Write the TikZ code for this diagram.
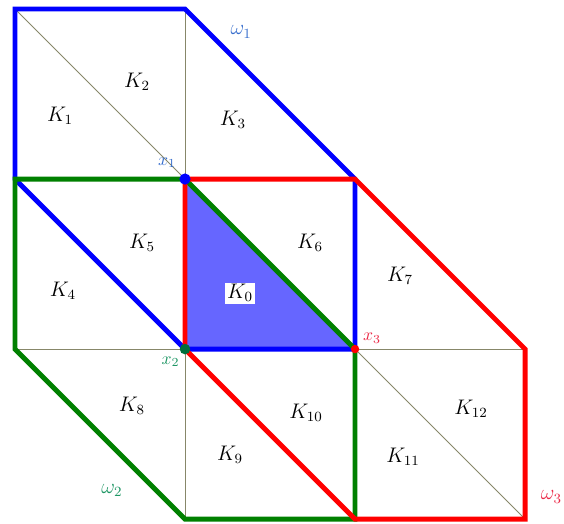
\documentclass[tikz,border=0pt]{standalone}
\usepackage{amsmath,amssymb}
\usepackage{xcolor}
\usepackage{tikz}
\usetikzlibrary{calc}
\definecolor{verde}{RGB}{0,128,0}
\definecolor{verdeosc}{RGB}{0,110,60}
\definecolor{malla}{RGB}{135,135,105}
\definecolor{azultxt}{RGB}{55,110,205}
\definecolor{verdetxt}{RGB}{30,150,100}
\definecolor{rojotxt}{RGB}{235,40,70}
\tikzset{
  lineas/.style={draw=malla,line width=0.55pt},
  borde/.style={draw=blue,line width=0.45pt},
  omuno/.style={draw=blue,line width=2.8pt},
  omdos/.style={draw=verde,line width=2.8pt},
  omtres/.style={draw=red,line width=2.8pt},
  relleno/.style={fill=blue!60},
  etq/.style={inner sep=1pt,font=\large}
}
\begin{document}
\begin{tikzpicture}[x=3.4cm,y=3.4cm]
\useasboundingbox (-0.088,-0.0235) rectangle (3.229,3.053);
% vertices
\coordinate (x1) at (1,2);
\coordinate (x2) at (1,1);
\coordinate (x3) at (2,1);
% triangulo K0
\fill[relleno] (x1)--(x2)--(x3)--cycle;
% malla
\draw[lineas] (0,3)--(1,3) (0,2)--(2,2) (0,1)--(3,1) (1,0)--(3,0);
\draw[lineas] (0,3)--(0,1) (1,3)--(1,0) (2,2)--(2,0) (3,1)--(3,0);
\draw[lineas] (0,3)--(1,2) (1,3)--(2,2) (0,2)--(1,1) (1,2)--(2,1)
  (2,2)--(3,1) (0,1)--(1,0) (1,1)--(2,0) (2,1)--(3,0);
\draw[borde] (0,3)--(1,3)--(3,1)--(3,0)--(1,0)--(0,1)--cycle;
% soportes
\draw[omuno] (0,3)--(1,3)--(2,2)--(2,1)--(1,1)--(0,2)--cycle;
\draw[omdos] (0,2)--(1,2)--(2,1)--(2,0)--(1,0)--(0,1)--cycle;
\draw[omtres] (1,2)--(2,2)--(3,1)--(3,0)--(2,0)--(1,1)--cycle;
% nodos
\fill[blue] (x1) circle (3.2pt);
\fill[verdeosc] (x2) circle (3pt);
\fill[red] (x3) circle (2.4pt);
\node[azultxt,etq,font=\normalsize] (lx1) at (0.895,2.095) {$x_1$};
\node[verdetxt,etq,font=\normalsize] (lx2) at (0.915,0.925) {$x_2$};
\node[rojotxt,etq,font=\normalsize] (lx3) at (2.1,1.065) {$x_3$};
% elementos
\node[etq] (k0) at (1.324,1.329) [fill=white] {$K_0$};
\node[etq] (k1) at (0.265,2.37) {$K_1$};
\node[etq] (k2) at (0.718,2.57) {$K_2$};
\node[etq] (k3) at (1.282,2.35) {$K_3$};
\node[etq] (k4) at (0.282,1.341) {$K_4$};
\node[etq] (k5) at (0.747,1.624) {$K_5$};
\node[etq] (k6) at (1.735,1.624) {$K_6$};
\node[etq] (k7) at (2.265,1.429) {$K_7$};
\node[etq] (k8) at (0.688,0.665) {$K_8$};
\node[etq] (k9) at (1.265,0.376) {$K_9$};
\node[etq] (k10) at (1.712,0.624) {$K_{10}$};
\node[etq] (k11) at (2.282,0.365) {$K_{11}$};
\node[etq] (k12) at (2.682,0.647) {$K_{12}$};
% etiquetas de los soportes
\node[azultxt,etq] (w1) at (1.33,2.865) {$\omega_1$};
\node[verdetxt,etq] (w2) at (0.57,0.17) {$\omega_2$};
\node[rojotxt,etq,anchor=west] (w3) at (3.08,0.13) {$\omega_3$};
\end{tikzpicture}
\end{document}
